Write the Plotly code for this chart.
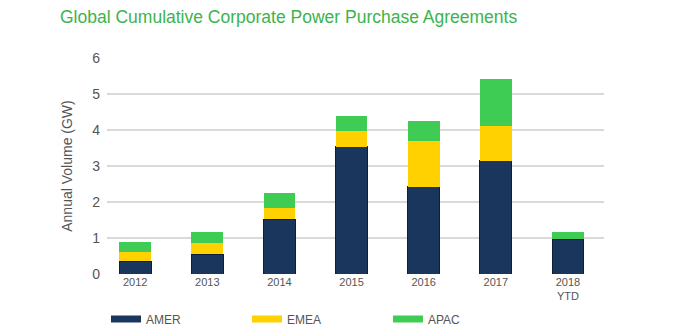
import plotly.graph_objects as go

# Annual corporate PPA volume by region (GW)
years = ["2012", "2013", "2014", "2015", "2016", "2017", "2018<br>YTD"]
amer = [0.36, 0.55, 1.52, 3.54, 2.43, 3.15, 0.97]
emea = [0.25, 0.31, 0.32, 0.44, 1.26, 0.97, 0.00]
apac = [0.29, 0.30, 0.42, 0.41, 0.57, 1.30, 0.21]

series = [
    ("AMER", amer, "#1b365d", "#0f1f38", 1),
    ("EMEA", emea, "#ffd100", "#ffd100", 0),
    ("APAC", apac, "#3ecc55", "#3ecc55", 0),
]

FONT = "Liberation Sans, Arial, sans-serif"

fig = go.Figure()
idx = list(range(len(years)))
for name, vals, color, edge, lw in series:
    fig.add_trace(go.Bar(
        x=idx, y=vals, name=name, width=0.44,
        marker=dict(color=color, line=dict(color=edge, width=lw)),
        showlegend=False,
    ))
# wide, flat legend swatches
for name, vals, color, edge, lw in series:
    fig.add_trace(go.Scatter(
        x=[None], y=[None], mode="lines", name=name,
        line=dict(color=color, width=7),
    ))

fig.update_layout(
    width=700, height=331,
    barmode="stack",
    plot_bgcolor="white", paper_bgcolor="white",
    margin=dict(l=107, r=96, t=58, b=57, autoexpand=False),
    font=dict(family=FONT, color="#555555"),
    title=dict(
        text="Global Cumulative Corporate Power Purchase Agreements",
        font=dict(family=FONT, size=17.5, color="#3cb44b"),
        xref="container", x=60 / 700, xanchor="left",
        yref="container", y=1 - 17 / 331, yanchor="middle",
    ),
    xaxis=dict(
        tickmode="array", tickvals=idx, ticktext=years,
        range=[-0.39, 6.5], showgrid=False, zeroline=False,
        showline=False, ticks="", automargin=False,
        tickfont=dict(size=11, color="#555555"),
    ),
    yaxis=dict(
        range=[0, 6], dtick=1, showgrid=True, gridcolor="#d9d9d9",
        gridwidth=2, zeroline=False, showline=False, ticks="",
        ticklabelstandoff=6, automargin=False,
        tickfont=dict(size=14, color="#555555"),
        title=dict(text="Annual Volume (GW)", font=dict(size=14, color="#555555"),
                   standoff=16),
    ),
    legend=dict(
        orientation="h", xref="container", x=106 / 700, xanchor="left",
        yref="container", y=1 - 319 / 331, yanchor="middle",
        entrywidth=96, entrywidthmode="pixels",
        font=dict(size=12, color="#555555"), traceorder="normal",
    ),
)

fig.write_html("out.html")
